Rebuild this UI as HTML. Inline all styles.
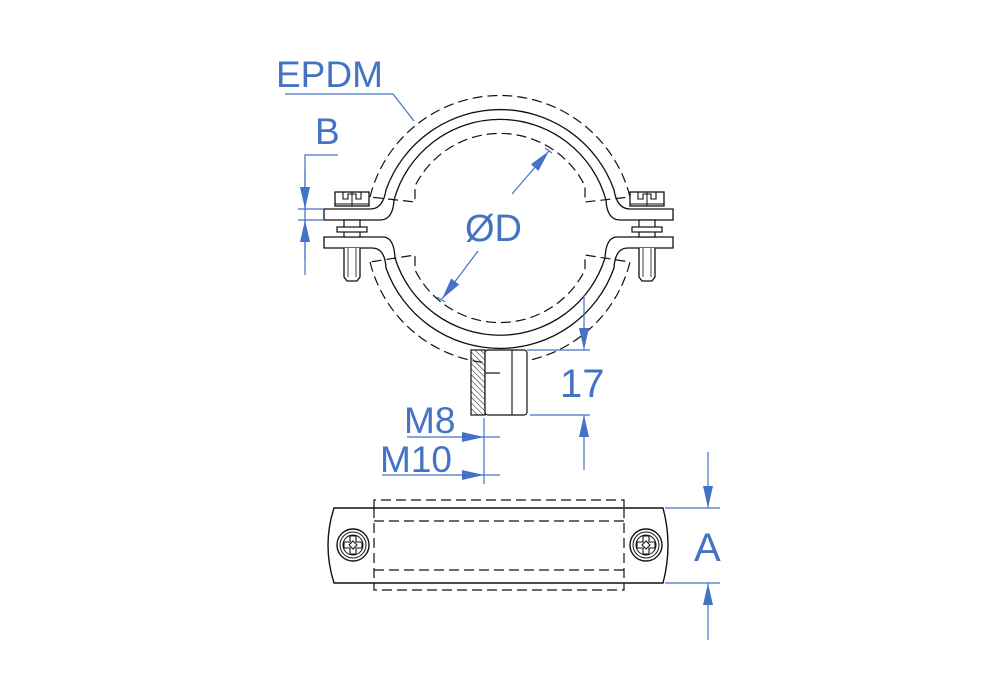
<!DOCTYPE html>
<html><head><meta charset="utf-8"><style>
html,body{margin:0;padding:0;background:#fff;}
svg{display:block;}
text{font-family:"Liberation Sans",sans-serif;fill:#4472c4;}
</style></head><body>
<svg width="1000" height="700" viewBox="0 0 1000 700" xmlns="http://www.w3.org/2000/svg">
<defs>
<pattern id="h" width="4" height="4" patternUnits="userSpaceOnUse" patternTransform="rotate(-45)">
<line x1="0" y1="0" x2="0" y2="4" stroke="#111" stroke-width="1"/></pattern>
<g id="bolt">
 <rect x="-17" y="192" width="34" height="14" fill="#fff" stroke="#111" stroke-width="1.3"/>
 <path d="M-9,192 V199 H-4 V194 H4 V199 H9 V192" fill="none" stroke="#111" stroke-width="1.1"/>
 <line x1="-17" y1="204" x2="17" y2="204" stroke="#111" stroke-width="1"/>
 <line x1="0" y1="192" x2="0" y2="206" stroke="#111" stroke-width="1"/>
 <rect x="-8" y="220" width="16" height="17" fill="#fff" stroke="#111" stroke-width="1.2"/>
 <rect x="-15" y="227" width="30" height="5" fill="#fff" stroke="#111" stroke-width="1.2"/>
 <path d="M-8,248 V277 L-5,281 H5 L8,277 V248" fill="#fff" stroke="#111" stroke-width="1.3"/>
 <line x1="-4" y1="248" x2="-4" y2="277" stroke="#111" stroke-width="0.8"/>
 <line x1="4" y1="248" x2="4" y2="277" stroke="#111" stroke-width="0.8"/>
</g>
<g id="screw">
 <circle r="16" fill="#fff" stroke="#111" stroke-width="1.4"/>
 <circle r="13" fill="none" stroke="#111" stroke-width="1"/>
 <circle r="10" fill="none" stroke="#111" stroke-width="1"/>
 <path d="M-3,-9 H3 V-3 H9 V3 H3 V9 H-3 V3 H-9 V-3 H-3 Z" fill="#fff" stroke="#111" stroke-width="1.1"/>
 <path d="M0,-4 L4,0 L0,4 L-4,0 Z" fill="none" stroke="#111" stroke-width="1"/>
</g>
<marker id="a" viewBox="0 0 22 10" refX="22" refY="5" markerWidth="22" markerHeight="10" markerUnits="userSpaceOnUse" orient="auto-start-reverse">
 <path d="M0,0 L22,5 L0,10 Z" fill="#4472c4"/></marker>
</defs>

<g fill="none" stroke="#111" stroke-width="1.3">
 <path d="M324,209 H370 Q383,209 386,190 A121,121 0 0 1 614,190 Q617,209 630,209 H673 V220 H620 Q607,220 606,200 A110,110 0 0 0 394,200 Q393,220 380,220 H324 Z" fill="#fff"/>
 <path d="M324,237 H383 Q394,237 395,258 A110,110 0 0 0 605,258 Q606,237 617,237 H673 V248 H628 Q615,248 614,268 A121,121 0 0 1 386,268 Q385,248 372,248 H324 Z" fill="#fff"/>
</g>
<g fill="none" stroke="#111" stroke-width="1.2" stroke-dasharray="10,5">
 <path d="M370,197 A134,134 0 0 1 630,197 L585,202 L585,186 A95,95 0 0 0 415,186 L415,202 Z"/>
 <path d="M370,262 A134,134 0 0 0 630,262 L585,255 L585,270 A95,95 0 0 1 415,270 L415,255 Z"/>
</g>
<use href="#bolt" x="352"/>
<use href="#bolt" x="647"/>

<rect x="471" y="350" width="14" height="65" fill="url(#h)" stroke="#111" stroke-width="1.2"/>
<rect x="485" y="350" width="42" height="65" fill="#fff" stroke="#111" stroke-width="1.2" rx="3"/>
<line x1="512" y1="350" x2="512" y2="415" stroke="#111" stroke-width="1.1"/>
<line x1="485" y1="373" x2="500" y2="373" stroke="#111" stroke-width="1.2"/>

<path d="M334,508 H663 Q673,545 663,583 H334 Q322,545 334,508 Z" fill="#fff" stroke="#111" stroke-width="1.4"/>
<g fill="none" stroke="#111" stroke-width="1.2" stroke-dasharray="10,5">
 <path d="M374,508 V500 H624 V508"/>
 <path d="M374,583 V590 H624 V583"/>
 <line x1="374" y1="521" x2="624" y2="521"/>
 <line x1="374" y1="570" x2="624" y2="570"/>
 <line x1="374" y1="508" x2="374" y2="583"/>
 <line x1="624" y1="508" x2="624" y2="583"/>
</g>
<use href="#screw" x="353" y="545"/>
<use href="#screw" x="646" y="545"/>

<g stroke="#4472c4" stroke-width="1.2" fill="none">
 <path d="M285,94 H393 L414,121"/>
 <path d="M338,155 H305 V275"/>
 <line x1="305" y1="170" x2="305" y2="209" marker-end="url(#a)"/>
 <line x1="305" y1="260" x2="305" y2="220" marker-end="url(#a)"/>
 <line x1="298" y1="209" x2="324" y2="209"/>
 <line x1="298" y1="220" x2="324" y2="220"/>
 <line x1="512" y1="194" x2="549" y2="151" marker-end="url(#a)"/>
 <line x1="478" y1="251" x2="442" y2="299" marker-end="url(#a)"/>
 <line x1="545" y1="148" x2="552" y2="153"/>
 <line x1="437" y1="297" x2="445" y2="302"/>
 <line x1="584" y1="295" x2="584" y2="350" marker-end="url(#a)"/>
 <line x1="527" y1="350" x2="590" y2="350"/>
 <line x1="530" y1="415" x2="590" y2="415"/>
 <line x1="584" y1="470" x2="584" y2="415" marker-end="url(#a)"/>
 <line x1="484" y1="418" x2="484" y2="484"/>
 <line x1="407" y1="437" x2="484" y2="437" marker-end="url(#a)"/>
 <line x1="484" y1="437" x2="500" y2="437"/>
 <line x1="382" y1="475" x2="484" y2="475" marker-end="url(#a)"/>
 <line x1="484" y1="475" x2="500" y2="475"/>
 <line x1="708" y1="452" x2="708" y2="508" marker-end="url(#a)"/>
 <line x1="665" y1="508" x2="720" y2="508"/>
 <line x1="665" y1="583" x2="720" y2="583"/>
 <line x1="708" y1="640" x2="708" y2="583" marker-end="url(#a)"/>
</g>
<text x="276" y="87" font-size="37">EPDM</text>
<text x="315" y="144" font-size="37">B</text>
<text x="465" y="241" font-size="38">ØD</text>
<text x="560" y="397" font-size="40">17</text>
<text x="404" y="433" font-size="37">M8</text>
<text x="380" y="472" font-size="37">M10</text>
<text x="694" y="561" font-size="40">A</text>
</svg>
</body></html>
